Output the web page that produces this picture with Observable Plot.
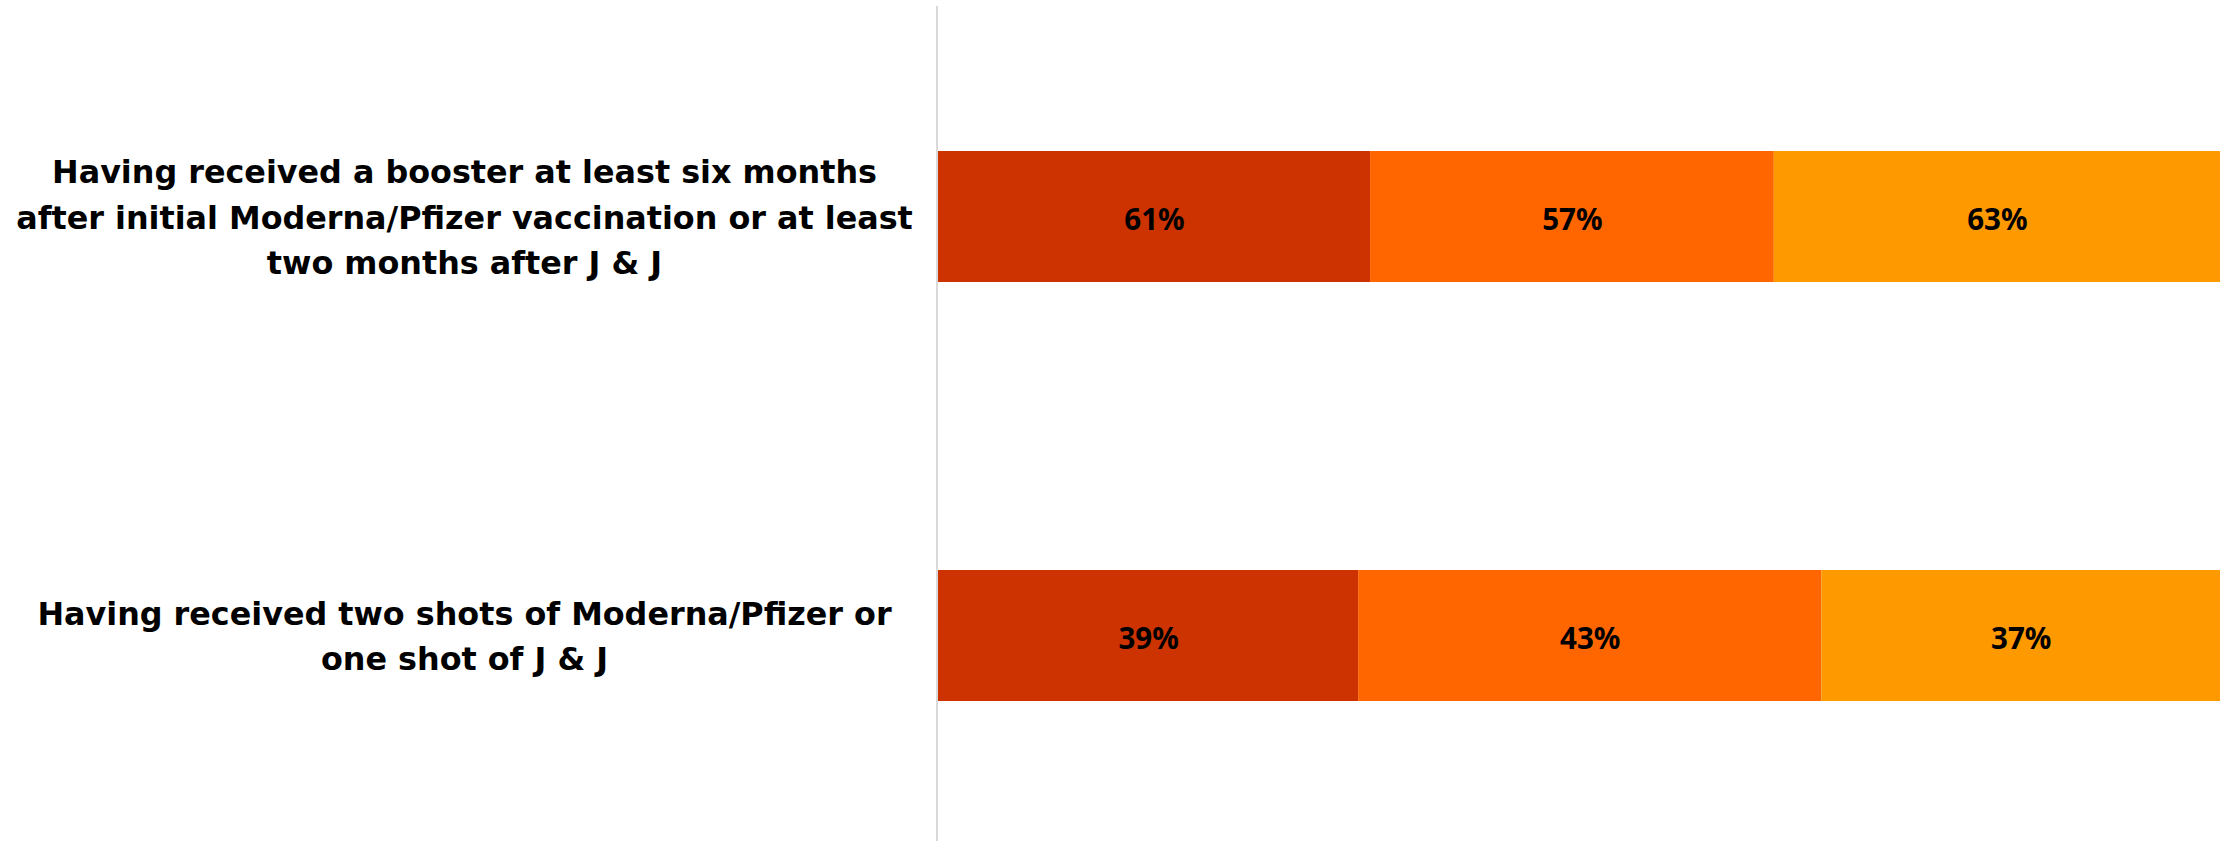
<!DOCTYPE html>
<html>
<head>
<meta charset="utf-8">
<script src="https://cdn.jsdelivr.net/npm/d3@7"></script>
<script src="https://cdn.jsdelivr.net/npm/@observablehq/plot@0.6"></script>
<style>
  html, body { margin: 0; padding: 0; background: #ffffff; }
  #chart svg { display: block; }
</style>
</head>
<body>
<div id="chart"></div>
<script>
// Categories (bars) and their wrapped tick labels
const categories = [
  "Having received a booster at least six months after initial Moderna/Pfizer vaccination or at least two months after J & J",
  "Having received two shots of Moderna/Pfizer or one shot of J & J"
];
const categoryLabelLines = [
  ["Having received a booster at least six months", "after initial Moderna/Pfizer vaccination or at least", "two months after J & J"],
  ["Having received two shots of Moderna/Pfizer or", "one shot of J & J"]
];

// Series (segments) and values per category
const seriesNames = ["Group 1", "Group 2", "Group 3"];
const boosterValues = [61, 57, 63];
const twoShotValues = [39, 43, 37];
const seriesColors = ["#CC3300", "#FF6600", "#FF9900"];

const valuesByCategory = [boosterValues, twoShotValues];
const table = [];
categories.forEach((c, i) => {
  seriesNames.forEach((s, j) => {
    table.push({category: c, series: s, value: valuesByCategory[i][j]});
  });
});

const labelFont = "'DejaVu Sans', Verdana, sans-serif";
const valueFont = "'Noto Sans', 'Open Sans', sans-serif";

const chart = Plot.plot({
  width: 2231,
  height: 841,
  marginLeft: 938,
  marginRight: 11,
  marginTop: 6,
  marginBottom: 0,
  style: {background: "#ffffff", color: "#000000"},
  x: {axis: null},
  y: {domain: categories, axis: null, paddingInner: 0.6877, paddingOuter: 0.339, align: 0.51},
  color: {domain: seriesNames, range: seriesColors},
  marks: [
    Plot.barX(table, Plot.stackX({
      x: "value", y: "category", fill: "series", offset: "normalize"
    })),
    Plot.text(table, Plot.stackX({
      x: "value", y: "category", z: "series", offset: "normalize",
      text: d => d.value + "%",
      fontSize: 29.5, fontWeight: "bold", fontFamily: valueFont, fill: "#000000", dy: 4
    })),
    Plot.ruleX([0], {stroke: "#d9d9d9", strokeWidth: 2, dx: -1.5}),
    Plot.axisY({
      tickSize: 0,
      tickPadding: 0,
      label: null,
      textAnchor: "middle",
      dx: 464 - 938,
      dy: -3,
      fontSize: 31.8,
      fontWeight: "bold",
      fontFamily: labelFont,
      lineHeight: 1.43,
      fill: "#000000",
      tickFormat: d => categoryLabelLines[categories.indexOf(d)].join("\n")
    })
  ]
});
document.getElementById("chart").appendChild(chart);
</script>
</body>
</html>
